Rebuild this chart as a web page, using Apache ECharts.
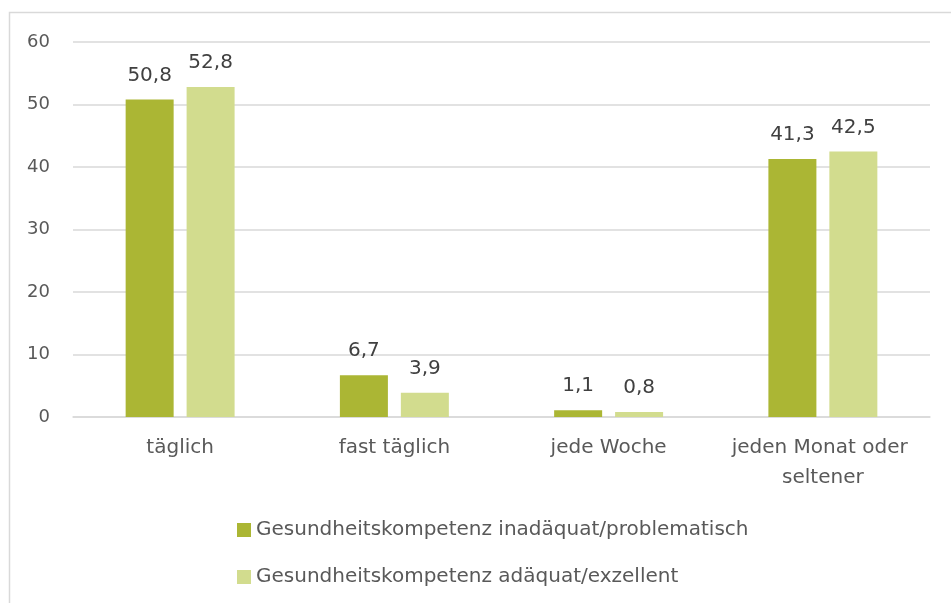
<!DOCTYPE html>
<html>
<head>
<meta charset="utf-8">
<script src="https://cdn.jsdelivr.net/npm/echarts@6/dist/echarts.min.js"></script>
<style>
  html, body { margin: 0; padding: 0; background: #fff; }
  #chart { width: 951px; height: 603px; }
</style>
</head>
<body>
<div id="chart"></div>
<script>
// Kategorien und Werte (Prozent)
const categories = ['täglich', 'fast täglich', 'jede Woche', 'jeden Monat oder seltener']
const seriesNames = ['Gesundheitskompetenz inadäquat/problematisch', 'Gesundheitskompetenz adäquat/exzellent']
const inadequate = [50.8, 6.7, 1.1, 41.3]
const adequate = [52.8, 3.9, 0.8, 42.5]

const font = 'DejaVu Sans'
const chart = echarts.init(document.getElementById('chart'))

function barSeries (name, data, color) {
  return {
    type: 'bar',
    name: name,
    data: data,
    barWidth: 48,
    barGap: '27%',
    itemStyle: { color: color },
    label: {
      show: true,
      position: 'top',
      distance: 14,
      fontFamily: font,
      fontSize: 20,
      color: '#404040',
      formatter: p => String(p.value).replace('.', ',')
    }
  }
}

chart.setOption({
  animation: false,
  textStyle: { fontFamily: font },
  graphic: [{
    type: 'rect',
    shape: { x: 9.5, y: 12.5, width: 1200, height: 1200 },
    style: { fill: 'none', stroke: '#d9d9d9', lineWidth: 1.5 },
    silent: true
  }],
  grid: { left: 73, right: 21, top: 42, bottom: 186 },
  legend: {
    orient: 'vertical',
    left: 232,
    top: 515,
    itemWidth: 14,
    itemHeight: 14,
    itemGap: 27,
    icon: 'rect',
    data: seriesNames,
    textStyle: { fontFamily: font, fontSize: 20, color: '#595959' }
  },
  xAxis: {
    type: 'category',
    data: categories,
    axisLine: { lineStyle: { color: '#d9d9d9', width: 1.5 } },
    axisTick: { show: false },
    axisLabel: {
      margin: 16,
      fontFamily: font,
      fontSize: 20,
      color: '#595959',
      lineHeight: 30,
      width: 210,
      overflow: 'break',
      interval: 0
    }
  },
  yAxis: {
    type: 'value',
    min: 0,
    max: 60,
    interval: 10,
    axisLine: { show: false },
    axisTick: { show: false },
    splitLine: { lineStyle: { color: '#d9d9d9', width: 1.5 } },
    axisLabel: {
      margin: 23,
      fontFamily: font,
      fontSize: 18,
      color: '#595959'
    }
  },
  series: [
    barSeries(seriesNames[0], inadequate, '#abb634'),
    barSeries(seriesNames[1], adequate, '#d2dc8e')
  ]
})
</script>
</body>
</html>
